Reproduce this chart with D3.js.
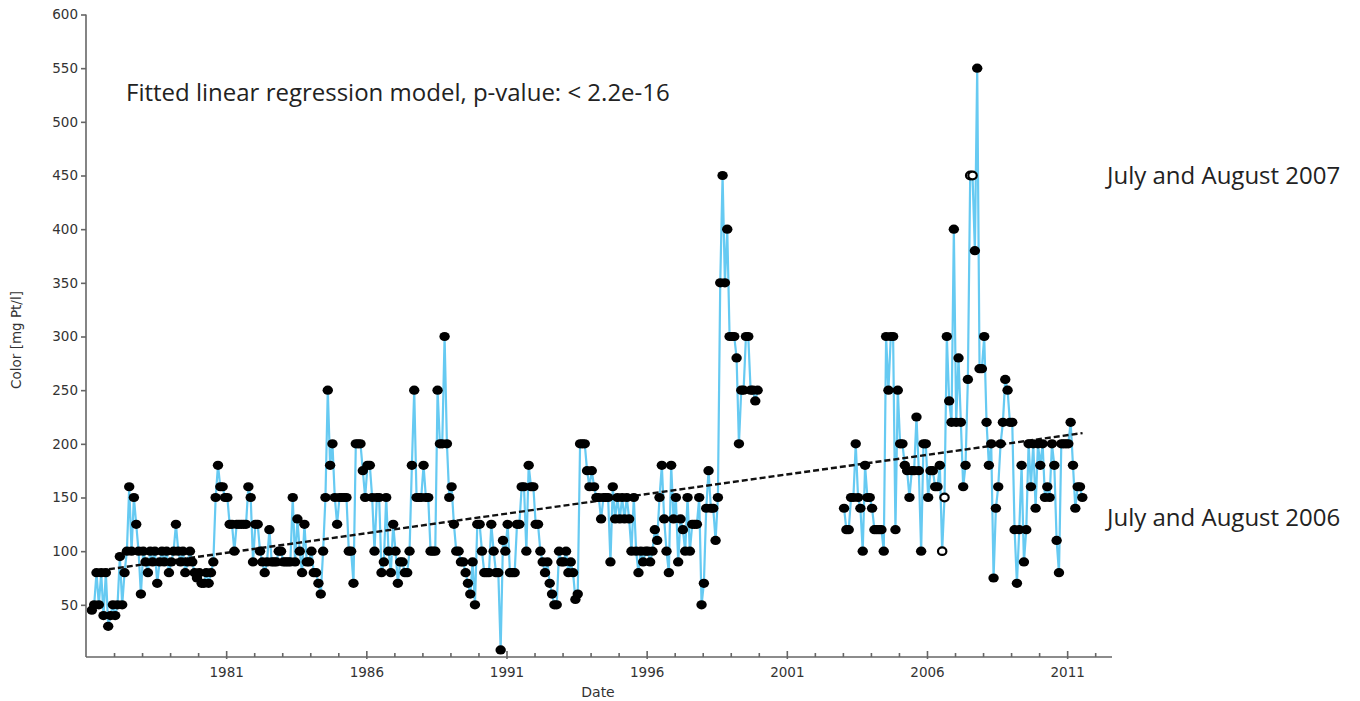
<!DOCTYPE html>
<html>
<head>
<meta charset="utf-8">
<script src="https://cdn.jsdelivr.net/npm/d3@7"></script>
<style>
  body { margin: 0; background: #fff; }
  svg { display: block; }
</style>
</head>
<body>
<div id="chart"></div>
<script>
// Dimensions
const width = 1360;
const height = 701;

// Monthly colour values, Jan 1976 - Dec 1999 (one row per year)
const colourStartA = 1976;
const colourA = [
  null, null, 45, 50, 80, 50, 80, 40, 80, 30, 40, 50,       // 1976
  40, 50, 95, 50, 80, 100, 160, 100, 150, 125, 100, 60,     // 1977
  100, 90, 80, 100, 90, 100, 70, 90, 100, 90, 100, 80,      // 1978
  90, 100, 125, 100, 90, 100, 80, 90, 100, 90, 80, 75,      // 1979
  80, 70, 70, 80, 70, 80, 90, 150, 180, 160, 160, 150,      // 1980
  150, 125, 125, 100, 125, 125, 125, 125, 125, 160, 150, 90, // 1981
  125, 125, 100, 90, 80, 90, 120, 90, 90, 90, 100, 100,     // 1982
  90, 90, 90, 90, 150, 90, 130, 100, 80, 125, 90, 90,       // 1983
  100, 80, 80, 70, 60, 100, 150, 250, 180, 200, 150, 125,   // 1984
  150, 150, 150, 150, 100, 100, 70, 200, 200, 200, 175, 150, // 1985
  180, 180, 150, 100, 150, 150, 80, 90, 150, 100, 80, 125,  // 1986
  100, 70, 90, 90, 80, 80, 100, 180, 250, 150, 150, 150,    // 1987
  180, 150, 150, 100, 100, 100, 250, 200, 200, 300, 200, 150, // 1988
  160, 125, 100, 100, 90, 90, 80, 70, 60, 90, 50, 125,      // 1989
  125, 100, 80, 80, 80, 125, 100, 80, 80, 8, 110, 100,      // 1990
  125, 80, 80, 80, 125, 125, 160, 160, 100, 180, 160, 160,  // 1991
  125, 125, 100, 90, 80, 90, 70, 60, 50, 50, 100, 90,       // 1992
  90, 100, 80, 90, 80, 55, 60, 200, 200, 200, 175, 160,     // 1993
  175, 160, 150, 150, 130, 150, 150, 150, 90, 160, 130, 150, // 1994
  130, 150, 130, 150, 130, 100, 150, 100, 80, 100, 90, 100, // 1995
  100, 90, 100, 120, 110, 150, 180, 130, 100, 80, 180, 130, // 1996
  150, 90, 130, 120, 100, 150, 100, 125, 125, 125, 150, 50, // 1997
  70, 140, 175, 140, 140, 110, 150, 350, 450, 350, 400, 300, // 1998
  300, 300, 280, 200, 250, 250, 300, 300, 250, 250, 240, 250 // 1999
];

// Monthly colour values, Jan 2003 - Jul 2011
const colourStartB = 2003;
const colourB = [
  140, 120, 120, 150, 150, 200, 150, 140, 100, 180, 150, 150, // 2003
  140, 120, 120, 120, 120, 100, 300, 250, 300, 300, 120, 250, // 2004
  200, 200, 180, 175, 150, 175, 175, 225, 175, 100, 200, 200, // 2005
  150, 175, 175, 160, 160, 180, 100, 150, 300, 240, 220, 400, // 2006
  220, 280, 220, 160, 180, 260, 450, 450, 380, 550, 270, 270, // 2007
  300, 220, 180, 200, 75, 140, 160, 200, 220, 260, 250, 220,  // 2008
  220, 120, 70, 120, 180, 90, 120, 200, 160, 200, 140, 200,   // 2009
  180, 200, 150, 160, 150, 200, 180, 110, 80, 200, 200, 200,  // 2010
  200, 220, 180, 140, 160, 160, 150                           // 2011
];

// Open markers: July and August 2006 / 2007
const highlighted = ["2006-07", "2006-08", "2007-07", "2007-08"];

// Fitted regression line end points
const regression = [
  { year: 1976.5, value: 82 },
  { year: 2011.55, value: 210 }
];

// Axis ticks
const yTicks = [50, 100, 150, 200, 250, 300, 350, 400, 450, 500, 550, 600];
const xMinorYears = d3.range(1977, 2013);
const xLabelYears = [1981, 1986, 1991, 1996, 2001, 2006, 2011];

// Annotations
const annotations = [
  { text: "Fitted linear regression model, p-value: < 2.2e-16", x: 126, y: 101 },
  { text: "July and August 2007", x: 1107, y: 184 },
  { text: "July and August 2006", x: 1107, y: 526 }
];

// Build point records from the monthly arrays
function toPoints(startYear, values) {
  return values.map((v, i) => {
    const yr = startYear + Math.floor(i / 12);
    const mo = (i % 12) + 1;
    return {
      key: `${yr}-${String(mo).padStart(2, "0")}`,
      year: yr + (mo - 0.5) / 12,
      value: v
    };
  });
}
const pointsA = toPoints(colourStartA, colourA).filter(d => d.value != null);
const pointsB = toPoints(colourStartB, colourB).filter(d => d.value != null);
const allPoints = pointsA.concat(pointsB);

// Scales
const x = d3.scaleLinear().domain([1976, 2012.6]).range([86, 1112]);
const y = d3.scaleLinear().domain([0, 600]).range([658.5, 14.5]);
const axisY = 657;

const svg = d3.select("#chart").append("svg")
  .attr("width", width)
  .attr("height", height);

// Blue connecting lines (one per period)
const line = d3.line()
  .x(d => x(d.year))
  .y(d => y(d.value));

svg.selectAll(".series")
  .data([pointsA, pointsB])
  .enter().append("path")
  .attr("class", "series")
  .attr("d", line)
  .attr("fill", "none")
  .attr("stroke", "#66caf2")
  .attr("stroke-width", 2.2)
  .attr("stroke-linejoin", "round");

// Regression line
svg.append("path")
  .datum(regression)
  .attr("d", line)
  .attr("fill", "none")
  .attr("stroke", "#111")
  .attr("stroke-width", 2.4)
  .attr("stroke-dasharray", "6,3");

// Points
svg.selectAll(".pt")
  .data(allPoints)
  .enter().append("ellipse")
  .attr("class", "pt")
  .attr("cx", d => x(d.year))
  .attr("cy", d => y(d.value))
  .attr("rx", d => highlighted.includes(d.key) ? 4.2 : 5.2)
  .attr("ry", d => highlighted.includes(d.key) ? 3.8 : 4.6)
  .attr("fill", d => highlighted.includes(d.key) ? "#fff" : "#000")
  .attr("stroke", "#000")
  .attr("stroke-width", d => highlighted.includes(d.key) ? 2.2 : 0);

// Y axis
const gy = svg.append("g")
  .attr("transform", `translate(86,0)`)
  .call(d3.axisLeft(y).tickValues(yTicks).tickSize(5).tickPadding(3));
gy.select(".domain").attr("d", `M0,${y(600)}V${axisY}`);

// X axis: yearly minor ticks, labels every 5 years
const gx = svg.append("g")
  .attr("transform", `translate(0,${axisY})`)
  .call(d3.axisBottom(x).tickValues(xMinorYears).tickSize(-4)
    .tickFormat(d => xLabelYears.includes(d) ? d : ""));
gx.select(".domain").attr("d", `M86,0H1112`);
gx.selectAll(".tick text").attr("dy", 0).attr("y", 20);
gx.selectAll(".tick line")
  .attr("y1", d => xLabelYears.includes(d) ? 2 : 0)
  .attr("y2", d => xLabelYears.includes(d) ? -6 : -4);

svg.selectAll(".domain, .tick line")
  .attr("stroke", "#666")
  .attr("stroke-width", 1.6);
svg.selectAll(".tick text")
  .attr("fill", "#333")
  .style("font-family", "'DejaVu Sans', sans-serif")
  .style("font-size", "13.5px");

// Axis titles
svg.append("text")
  .attr("transform", "translate(21,340) rotate(-90)")
  .attr("text-anchor", "middle")
  .style("font-family", "'DejaVu Sans', sans-serif")
  .style("font-size", "13.5px")
  .attr("fill", "#333")
  .text("Color [mg Pt/l]");

svg.append("text")
  .attr("x", 598)
  .attr("y", 697)
  .attr("text-anchor", "middle")
  .style("font-family", "'DejaVu Sans', sans-serif")
  .style("font-size", "14px")
  .attr("fill", "#333")
  .text("Date");

// Annotations
svg.selectAll(".note")
  .data(annotations)
  .enter().append("text")
  .attr("class", "note")
  .attr("x", d => d.x)
  .attr("y", d => d.y)
  .style("font-family", "'Open Sans', Lato, sans-serif")
  .style("font-size", "24px")
  .attr("fill", "#222")
  .text(d => d.text);
</script>
</body>
</html>
